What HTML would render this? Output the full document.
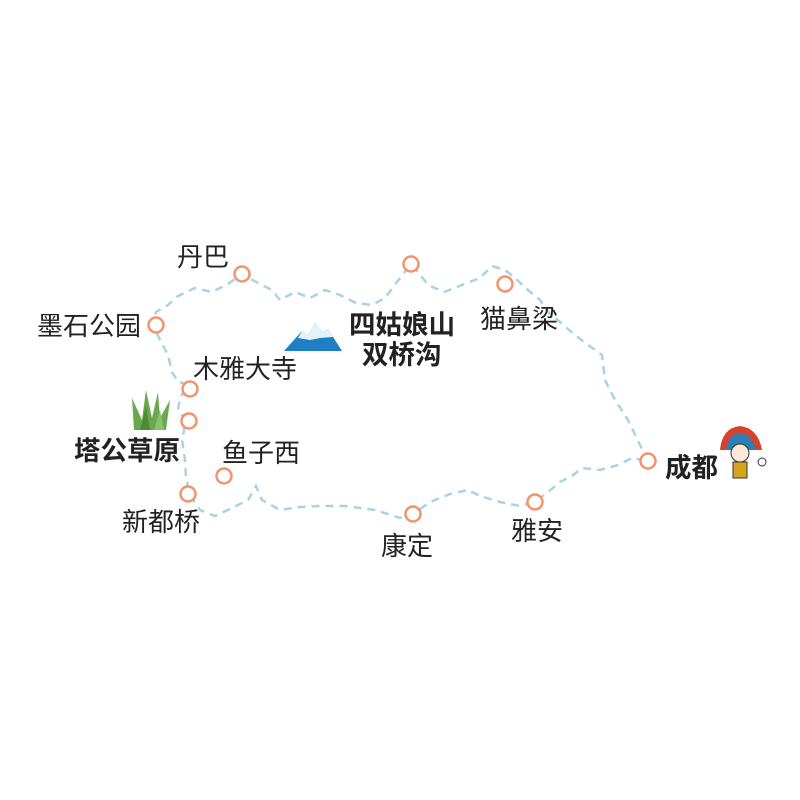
<!DOCTYPE html>
<html><head><meta charset="utf-8"><style>
html,body{margin:0;padding:0;background:#fff}
svg{display:block}
text{font-family:"Liberation Sans","Noto Sans CJK SC",sans-serif;fill:#222;font-size:26px}
.b{font-weight:bold;font-size:26.5px}
</style></head><body>
<svg width="800" height="800" viewBox="0 0 800 800">
<path d="M648,461 L640,445 L628,420 L614,398 L605,380 L602,355 L588,345 L575,335 L560,322 L548,312 L540,300 L528,290 L515,278 L505,270 L492,266 L480,278 L462,285 L444,292 L428,285 L418,272 L411,264 L400,278 L385,298 L372,305 L356,303 L340,295 L325,290 L310,298 L295,292 L280,300 L272,290 L258,283 L242,274 L228,284 L212,292 L195,288 L178,296 L168,305 L156,312 L152,322 L160,340 L168,355 L172,372 L178,382 L188,384 L180,398 L178,410 L186,420 L182,440 L185,460 L186,478 L190,495 L200,510 L215,516 L232,508 L248,500 L256,486 L262,500 L280,510 L300,507 L320,506 L345,506 L375,510 L400,518 L413,514 L430,502 L450,494 L468,490 L480,496 L500,502 L520,506 L535,502 L548,492 L560,482 L572,476 L582,468 L600,470 L618,465 L632,458 L648,461" fill="none" stroke="#a9d3e5" stroke-width="2.5" stroke-dasharray="8,6"/>
<g fill="#fff" stroke="#f1936b" stroke-width="2.5">
<circle cx="242" cy="274" r="7.5"/><circle cx="411" cy="264" r="7.5"/><circle cx="505" cy="284" r="7.5"/>
<circle cx="156" cy="325" r="7.5"/><circle cx="190" cy="389" r="7.5"/><circle cx="189" cy="421" r="7.5"/>
<circle cx="224" cy="476" r="7.5"/><circle cx="188" cy="494" r="7.5"/><circle cx="413" cy="514" r="7.5"/>
<circle cx="535" cy="502" r="7.5"/><circle cx="648" cy="461" r="7.5"/>
</g>
<polygon points="284,351 302,331 308,335 315,323 322,332 328,329 342,351" fill="#1e7fc4"/>
<polygon points="302,331 308,335 315,323 322,332 328,329 333,337 320,338 310,340 298,338" fill="#e6f2fa"/>
<g fill="#6aa84f">
<path d="M134,430 L132,398 L142,420 L146,390 L152,418 L158,392 L160,418 L170,400 L166,430 Z"/>
<path d="M140,430 L146,406 L150,430 Z" fill="#4e8a38"/>
<path d="M154,430 L160,410 L164,430 Z" fill="#8cc26b"/>
</g>
<g>
<path d="M720,450 Q722,428 740,426 Q758,428 762,450 Z" fill="#d9412b"/>
<path d="M726,450 Q728,434 740,433 Q752,434 756,450 Z" fill="#2f7fb7"/>
<circle cx="740" cy="453" r="9" fill="#fbe9d6" stroke="#333" stroke-width="1"/>
<rect x="733" y="462" width="14" height="16" fill="#d4a51c" stroke="#333" stroke-width="1"/>
<circle cx="762" cy="462" r="4" fill="#fff" stroke="#333"/>
</g>
<text x="177" y="266">丹巴</text>
<text x="37" y="335">墨石公园</text>
<text x="349" y="334" class="b">四姑娘山</text>
<text x="362" y="364" class="b">双桥沟</text>
<text x="480" y="328">猫鼻梁</text>
<text x="193" y="378">木雅大寺</text>
<text x="74" y="460" class="b">塔公草原</text>
<text x="222" y="462">鱼子西</text>
<text x="122" y="531">新都桥</text>
<text x="381" y="555">康定</text>
<text x="511" y="540">雅安</text>
<text x="665" y="477" class="b">成都</text>
</svg>
</body></html>
